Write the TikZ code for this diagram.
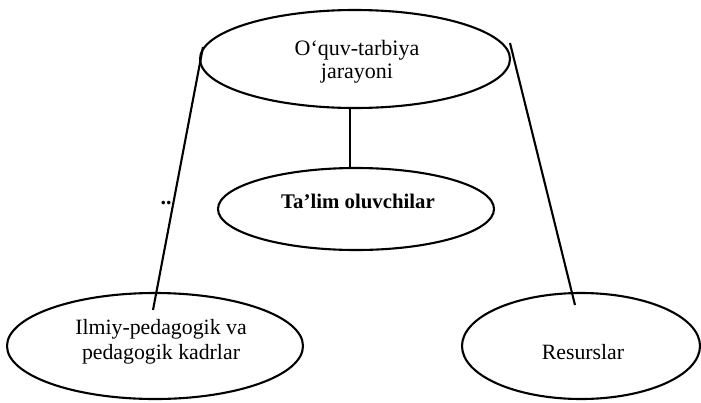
\documentclass[tikz,border=0pt]{standalone}
\usepackage{fontspec}
\setmainfont{Liberation Serif}
\usetikzlibrary{shapes.geometric}
\begin{document}
\begin{tikzpicture}[x=1pt,y=-1pt,
  oval/.style={draw, ellipse, line width=2.1pt, inner sep=0pt},
  txt/.style={font=\fontsize{21.8}{24.5}\selectfont, align=center, inner sep=0pt},
  conn/.style={line width=2.1pt}]
\useasboundingbox (0,0) rectangle (701,402);
\node[oval, minimum width=310pt, minimum height=98pt] (top) at (355,59) {};
\node[txt, font=\fontsize{22}{23}\selectfont] (toptxt) at (357,62) {O‘quv-tarbiya\\jarayoni};
\node[oval, minimum width=276pt, minimum height=82pt] (mid) at (356,209) {};
\node[txt, font=\bfseries\fontsize{20.8}{24}\selectfont] (midtxt) at (358,201) {Ta’lim oluvchilar};
\node[oval, minimum width=296pt, minimum height=106pt] (bl) at (155,346) {};
\node[txt] (bltxt) at (161,342) {Ilmiy-pedagogik va\\pedagogik kadrlar};
\node[oval, minimum width=238pt, minimum height=106pt] (br) at (581,346) {};
\node[txt] (brtxt) at (583,352) {Resurslar};
\node[txt, font=\bfseries\fontsize{22}{24}\selectfont] (dots) at (166,203) {..};
\coordinate (l1) at (203,47);
\coordinate (l2) at (153,310);
\coordinate (r1) at (510,43);
\coordinate (r2) at (575,305);
\coordinate (m1) at (350,107);
\coordinate (m2) at (350,169);
\draw[conn] (l1) -- (l2);
\draw[conn] (r1) -- (r2);
\draw[conn] (m1) -- (m2);
\end{tikzpicture}
\end{document}
